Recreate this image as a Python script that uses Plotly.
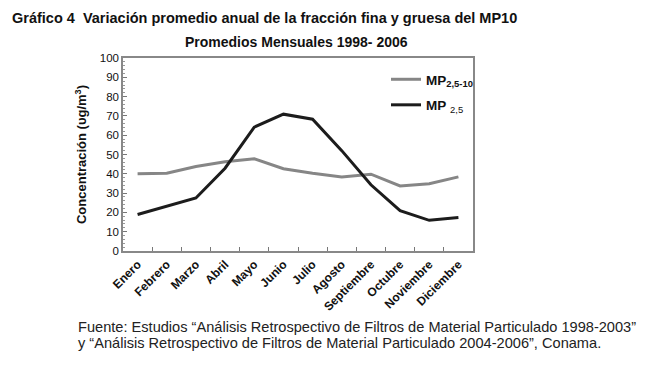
import plotly.graph_objects as go

meses = ["Enero", "Febrero", "Marzo", "Abril", "Mayo", "Junio", "Julio",
         "Agosto", "Septiembre", "Octubre", "Noviembre", "Diciembre"]
mp25_10 = [40.0, 40.3, 43.8, 46.2, 47.8, 42.6, 40.3, 38.4, 39.8, 33.7, 34.9, 38.4]
mp25 = [18.9, 23.0, 27.5, 42.9, 64.2, 70.9, 68.3, 52.0, 34.3, 20.9, 15.9, 17.3]
y_ticks = list(range(0, 101, 10))

FONT = "Liberation Sans, Arial, sans-serif"

PL, PR, PT, PB = 123, 473, 58, 251
H = PB - PT
W = PR - PL

fig = go.Figure()
fig.add_trace(go.Scatter(x=meses, y=mp25_10, mode="lines", name="<b>MP</b><sub><b>2,5-10</b></sub>",
                         legendgroup="g1", line=dict(color="#868686", width=3)))
fig.add_trace(go.Scatter(x=meses, y=mp25, mode="lines", name="<b>MP</b> <sub>2,5</sub>",
                         legendgroup="g2", line=dict(color="#1c1c1c", width=3)))

def px_x(x):
    return (x - PL) / W

def px_y(y):
    return (PB - y) / H

fig.update_layout(
    width=650, height=366,
    margin=dict(l=PL, r=650 - PR, t=PT, b=366 - PB, autoexpand=False),
    paper_bgcolor="white", plot_bgcolor="white",
    font=dict(family=FONT, color="#111"),
    showlegend=True,
    legend=dict(x=px_x(386), y=px_y(64), xanchor="left", yanchor="top",
                bgcolor="rgba(0,0,0,0)", font=dict(size=13.5, family=FONT),
                itemwidth=30, tracegroupgap=5),
    xaxis=dict(
        type="category", range=[-0.5, 11.5], tickson="boundaries",
        ticks="inside", ticklen=4, tickcolor="#777",
        showline=True, linecolor="#888", linewidth=1.5, mirror=True,
        showgrid=False, tickangle=-45,
        tickfont=dict(size=12, family=FONT, color="#111", weight="bold"),
    ),
    yaxis=dict(
        range=[0, 100], tickvals=y_ticks, ticks="inside", ticklen=4, tickcolor="#777",
        showline=True, linecolor="#888", linewidth=1.5, mirror=True,
        showgrid=False, zeroline=False,
        tickfont=dict(size=11.5, family=FONT, color="#111"),
        minor=dict(dtick=2, ticks="inside", ticklen=2, tickcolor="#999"),
        title=dict(text="<b>Concentración (υg/m<sup>3</sup>)</b>", font=dict(size=13, family=FONT), standoff=10),
    ),
    annotations=[
        dict(text="<b>Gráfico 4  Variación promedio anual de la fracción fina y gruesa del MP10</b>",
             xref="paper", yref="paper", x=px_x(10), y=px_y(18), xanchor="left", yanchor="middle",
             showarrow=False, font=dict(size=14.5, family="Liberation Sans Narrow, Arial Narrow, Liberation Sans, sans-serif", color="#111")),
        dict(text="<b>Promedios Mensuales 1998- 2006</b>",
             xref="paper", yref="paper", x=px_x(296), y=px_y(42), xanchor="center", yanchor="middle",
             showarrow=False, font=dict(size=14, family=FONT, color="#111")),
        dict(text="Fuente: Estudios “Análisis Retrospectivo de Filtros de Material Particulado 1998-2003”",
             xref="paper", yref="paper", x=px_x(76), y=px_y(327), xanchor="left", yanchor="middle",
             align="left", showarrow=False, font=dict(size=14.6, family=FONT, color="#222")),
        dict(text="y “Análisis Retrospectivo de Filtros de Material Particulado 2004-2006”, Conama.",
             xref="paper", yref="paper", x=px_x(76), y=px_y(343), xanchor="left", yanchor="middle",
             align="left", showarrow=False, font=dict(size=14.6, family=FONT, color="#222")),
    ],
)

fig.write_html("out.html", config={"displayModeBar": False},
               post_script="document.body.style.margin='0px';")
